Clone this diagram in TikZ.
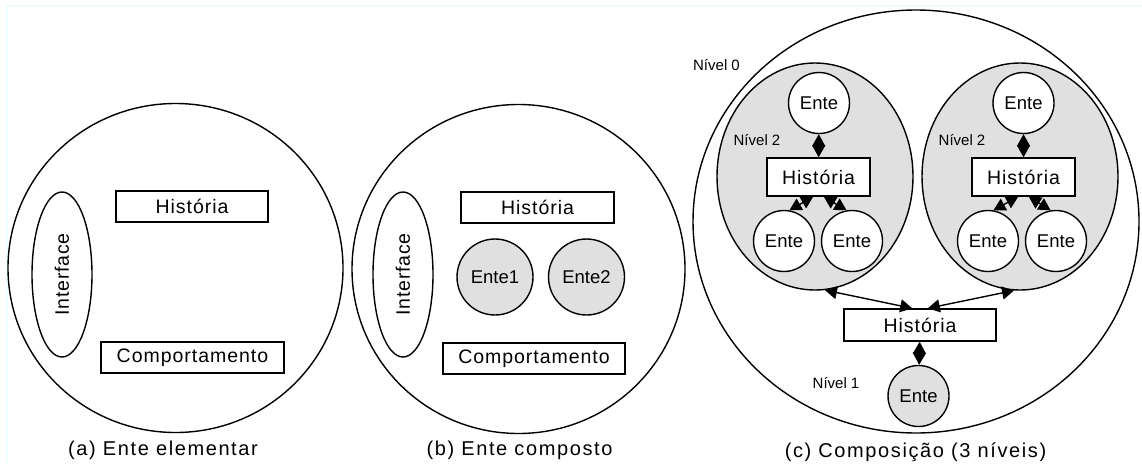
\documentclass[tikz,border=0pt]{standalone}
\usepackage{fontspec}
\setmainfont{Liberation Sans}
\usetikzlibrary{shapes.geometric,arrows.meta}
\definecolor{cinza}{RGB}{224,224,224}
\definecolor{moldura}{RGB}{238,255,255}
\tikzset{
  entidade/.style={draw,ellipse,line width=1.4pt,inner sep=0pt},
  interface/.style={draw,ellipse,line width=1.4pt,inner sep=0pt,rotate=90,minimum width=165pt,minimum height=60pt,font=\fontsize{19.5}{20}\selectfont\addfontfeature{LetterSpace=4}},
  caixa/.style={draw,line width=1.4pt,fill=white,inner sep=0pt,minimum height=31pt,font=\fontsize{19.5}{20}\selectfont\addfontfeature{LetterSpace=5}},
  ente/.style={draw,circle,line width=1.4pt,fill=white,inner sep=0pt,minimum size=61pt,font=\fontsize{18.5}{19}\selectfont},
  nivel/.style={font=\fontsize{15}{16}\selectfont},
  legenda/.style={font=\fontsize{20}{21}\selectfont\addfontfeature{LetterSpace=8}},
  liga/.style={{Triangle[length=12pt,width=13pt]}-{Triangle[length=12pt,width=13pt]},line width=1.4pt}
}
\begin{document}
\begin{tikzpicture}[x=1pt,y=-1pt]
	\useasboundingbox[fill=white] (0,0) rectangle (1142,463);
	\draw[moldura,line width=2pt] (7,463) |- (1142,6);
	% (a) ente elementar
	\node[entidade,minimum width=335pt,minimum height=329pt] (ea) at (175.5,268) {};
	\node[interface] (ia) at (62,274.5) {Interface};
	\node[caixa,minimum width=152pt] (ha) at (192,206.5) {História};
	\node[caixa,minimum width=183pt] (ca) at (192.5,357.5) {Comportamento};
	\node[legenda] (la) at (163,450) {(a) Ente elementar};
	% (b) ente composto
	\node[entidade,minimum width=333pt,minimum height=329pt] (eb) at (518.5,269) {};
	\node[interface] (ib) at (403,274.5) {Interface};
	\node[caixa,minimum width=153pt] (hb) at (537.5,207.5) {História};
	\node[ente,fill=cinza,minimum size=76pt] (e1) at (495,277) {Ente1};
	\node[ente,fill=cinza,minimum size=76pt] (e2) at (586.5,277) {Ente2};
	\node[caixa,minimum width=182pt] (cb) at (534,358.5) {Comportamento};
	\node[legenda] (lb) at (519.5,450) {(b) Ente composto};
	% (c) composicao
	\node[entidade,minimum width=446pt,minimum height=423pt] (ec) at (916,221.5) {};
	\node[entidade,fill=cinza,minimum width=196pt,minimum height=227pt] (inL) at (815,176.5) {};
	\node[entidade,fill=cinza,minimum width=196pt,minimum height=227pt] (inR) at (1020,176.5) {};
	\node[ente] (tL) at (819,103) {Ente};
	\node[ente] (tR) at (1023.5,103) {Ente};
	\node[caixa,minimum width=103pt,minimum height=38pt] (hL) at (818.5,177) {História};
	\node[caixa,minimum width=103pt,minimum height=38pt] (hR) at (1023.5,177) {História};
	\node[ente] (bL1) at (784,241) {Ente};
	\node[ente] (bL2) at (852,241) {Ente};
	\node[ente] (bR1) at (988,241) {Ente};
	\node[ente] (bR2) at (1056,241) {Ente};
	\node[caixa,minimum width=152pt,minimum height=32pt] (hc) at (920,325) {História};
	\node[ente,fill=cinza] (en) at (918.5,396) {Ente};
	\node[nivel] (n0) at (716.5,65) {Nível 0};
	\node[nivel] (n2L) at (757,140) {Nível 2};
	\node[nivel] (n2R) at (962,140) {Nível 2};
	\node[nivel] (n1) at (836,383) {Nível 1};
	\node[legenda] (lc) at (915.5,452) {(c) Composição (3 níveis)};
	\draw[liga] (tL) -- (hL);
	\draw[liga] (tR) -- (hR);
	\draw[liga] (hL.-105) -- (bL1.80);
	\draw[liga] (hL.-75) -- (bL2.100);
	\draw[liga] (hR.-105) -- (bR1.80);
	\draw[liga] (hR.-75) -- (bR2.100);
	\draw[liga] (inL.-85) -- (hc.115);
	\draw[liga] (inR.-93) -- (hc.65);
	\draw[liga] (hc) -- (en);
\end{tikzpicture}
\end{document}
